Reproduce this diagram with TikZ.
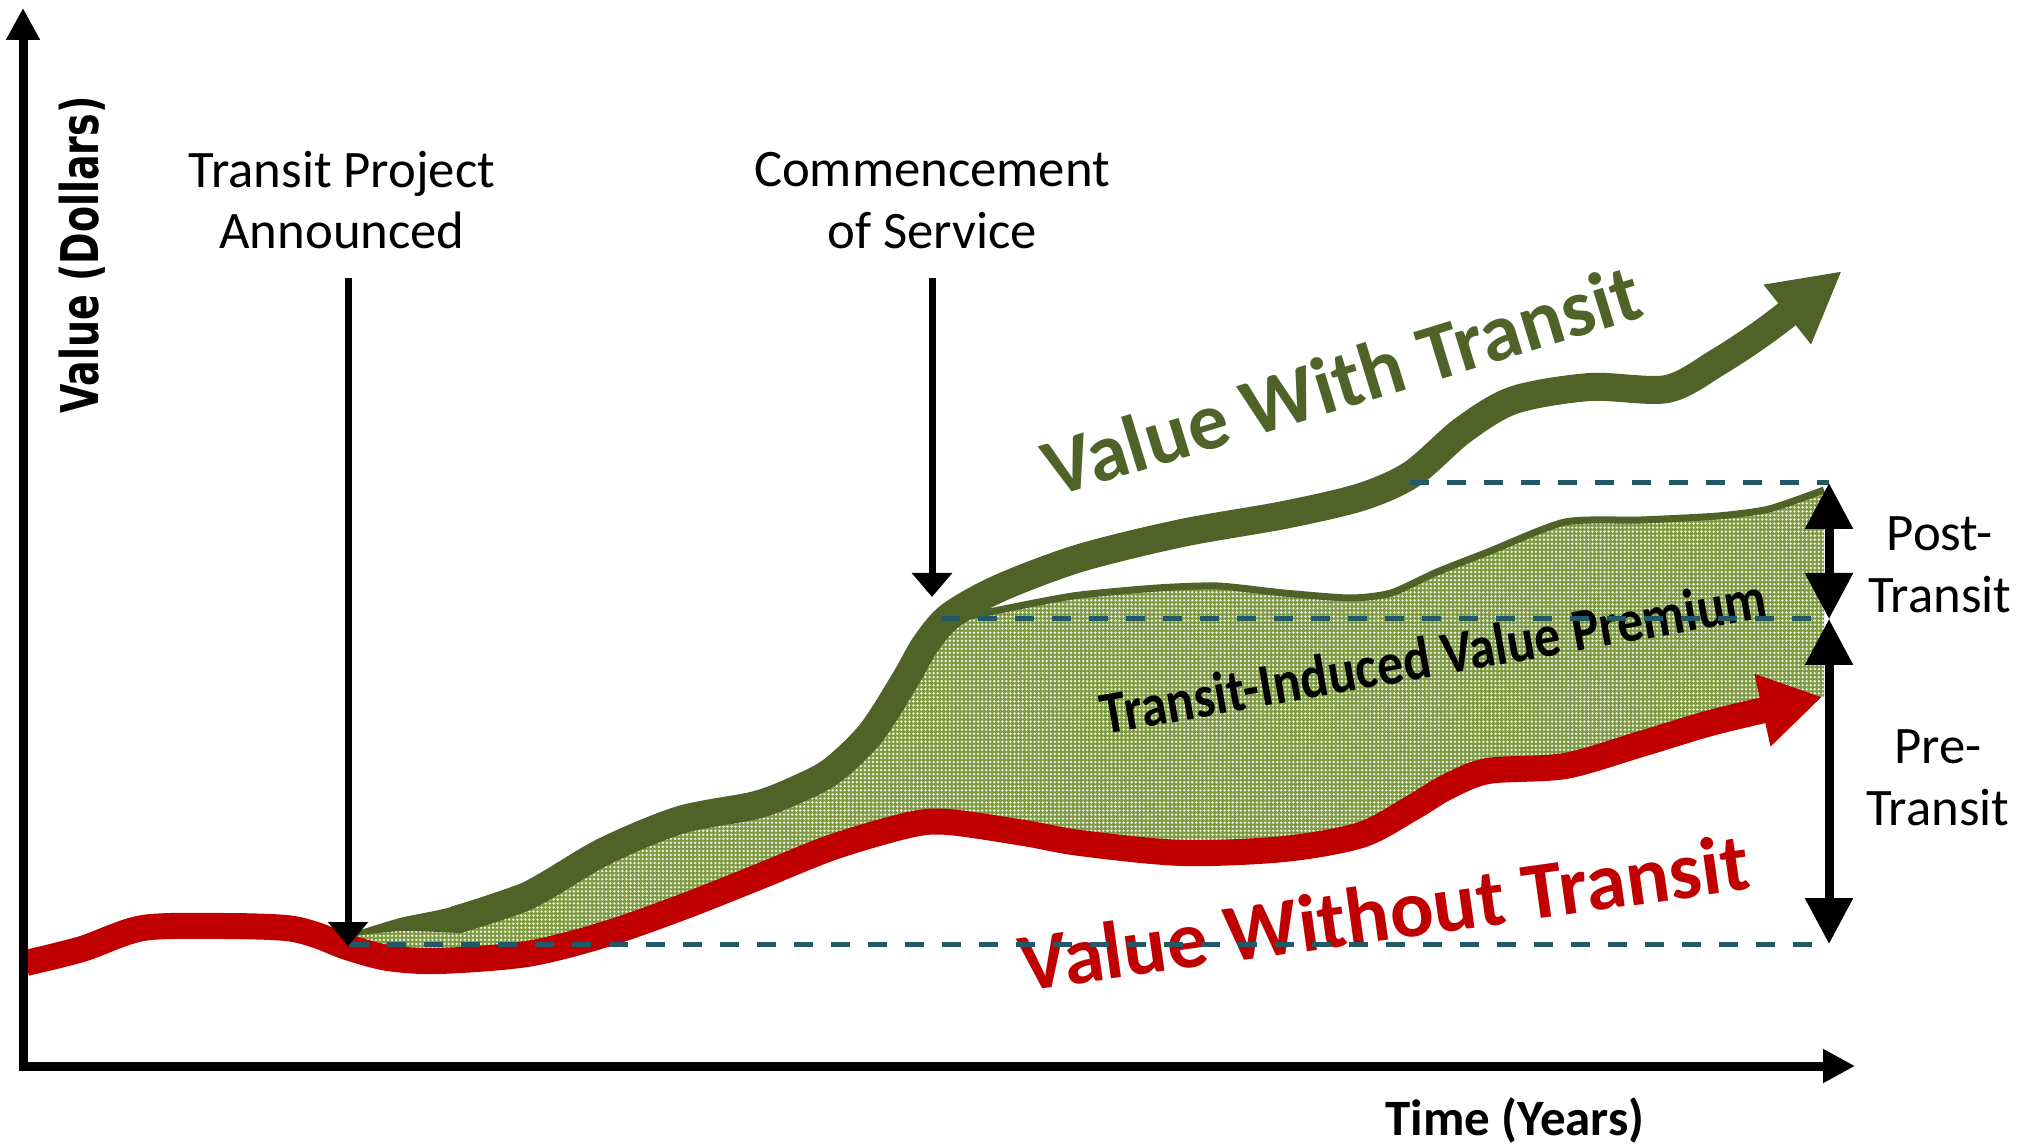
\documentclass[tikz,border=0pt]{standalone}
\usepackage{fontspec}
\setmainfont{Carlito}
\newfontfamily\axisfont[FakeStretch=0.73]{DejaVu Sans}
\usetikzlibrary{arrows.meta,patterns.meta}
\definecolor{withcol}{HTML}{4F6228}
\definecolor{withoutcol}{HTML}{C00000}
\definecolor{premgreen}{HTML}{7E9A43}
\definecolor{premdot}{HTML}{EEF3E2}
\definecolor{guidecol}{HTML}{215968}

\begin{document}
\begin{tikzpicture}[x=0.1mm,y=-0.1mm,
    axis/.style={line width=0.9mm,-{Triangle[length=3.2mm,width=3.2mm]}},
    marker/.style={line width=0.7mm,-{Triangle[length=2.4mm,width=3.9mm]}},
    gap/.style={line width=0.9mm,{Triangle[length=4.6mm,width=4.6mm]}-{Triangle[length=4.6mm,width=4.6mm]}},
    guide/.style={draw=guidecol,line width=0.5mm,dash pattern=on 1.9mm off 1.8mm},
    note/.style={font=\fontsize{15pt}{17.6pt}\selectfont,align=center,inner sep=0pt},
    big/.style={font=\fontsize{23.2pt}{27pt}\selectfont\bfseries,inner sep=0pt,anchor=base},
    premium/.style={preaction={fill=premgreen},pattern={Dots[distance=1.15pt,radius=0.38pt]},pattern color=premdot},
    withline/.style={draw=withcol,line width=2.8mm,-{Triangle[length=7mm,width=7.1mm]}},
    withoutline/.style={draw=withoutcol,line width=2.6mm,-{Triangle[length=6.1mm,width=7mm]}},
    ]
    \useasboundingbox (0,0) rectangle (2022,1146);

    \coordinate (origin) at (23,1066);
    \coordinate (ytip) at (23,8);
    \coordinate (xtip) at (1855,1066);
    \coordinate (annTop) at (348,278);
    \coordinate (annPt) at (348,946);
    \coordinate (comTop) at (932,278);
    \coordinate (comPt) at (932,597);
    \coordinate (topL) at (1410,483);
    \coordinate (topR) at (1829,483);
    \coordinate (midL) at (941,619);
    \coordinate (midR) at (1829,619);
    \coordinate (botL) at (350,944);
    \coordinate (botR) at (1829,944);

    \path[premium]
        plot[smooth] coordinates {(348,936) (400,926) (455,920) (527,896) (603,852) (680,820) (756,805) (800,788) (833,770) (871,733) (905,680) (925,645) (940,624)}
        -- plot[smooth,tension=0.4] coordinates {(940,622) (1034,603) (1080,595) (1157,588) (1218,586) (1284,593) (1350,598) (1391,593) (1437,572) (1488,552) (1565,522) (1641,520) (1718,516) (1769,509) (1824,490)}
        -- (1824,697)
        -- plot[smooth] coordinates {(1822,697) (1718,721) (1641,744) (1565,766) (1488,771) (1447,787) (1412,808) (1361,835) (1284,849) (1182,853) (1080,843) (1024,833) (948,822) (909,825) (833,847) (756,878) (680,908) (603,935) (527,954) (439,961) (388,958) (350,948)}
        -- cycle;
    \draw[withcol,line width=0.7mm] plot[smooth,tension=0.4] coordinates {(940,622) (1034,603) (1080,595) (1157,588) (1218,586) (1284,593) (1350,598) (1391,593) (1437,572) (1488,552) (1565,522) (1641,520) (1718,516) (1769,509) (1824,490)};

    \fill[withcol] plot[smooth] coordinates {(348,934) (400,918) (451,907) (523,883)} -- (531,909) -- plot[smooth] coordinates {(459,933) (400,931) (348,937)} -- cycle;
    \draw[withline] plot[smooth] coordinates {(455,920) (527,896) (603,852) (680,820) (756,805) (800,788) (833,770) (871,733) (905,680) (925,645) (950,616) (1000,588) (1080,558) (1182,533) (1284,515) (1361,497) (1412,474) (1463,430) (1514,400) (1590,387) (1667,389) (1718,362) (1769,328) (1842,271)};
    \draw[withoutline] plot[smooth] coordinates {(26,963) (82,949) (143,928) (224,926) (286,928) (316,935) (347,947) (388,958) (439,961) (527,954) (603,935) (680,908) (756,878) (833,847) (909,825) (948,822) (1024,833) (1080,843) (1182,853) (1284,849) (1361,835) (1412,808) (1447,787) (1488,771) (1565,766) (1641,744) (1718,721) (1822,697)};

    \node[big,rotate=17,text=withcol] (withlbl) at (1350,407) {Value With Transit};
    \node[big,rotate=8,text=withoutcol] (withoutlbl) at (1388,940) {Value Without Transit};
    \node[font=\fontsize{14.8pt}{17pt}\selectfont\bfseries,inner sep=0pt,anchor=base,rotate=10] (premlbl) at (1437,676) {\scalebox{1}[1.15]{Transit-Induced Value Premium}};

    \draw[guide] (topL) -- (topR);
    \draw[guide] (midL) -- (midR);
    \draw[guide] (botL) -- (botR);

    \node[note] (announce) at (342,200) {Transit Project\\Announced};
    \node[note] (commence) at (932,201) {Commencement\\of Service};
    \draw[marker] (annTop) -- (annPt);
    \draw[marker] (comTop) -- (comPt);

    \draw[gap] (midR) -- (topR);
    \draw[gap] (botR) -- (midR);
    \node[note] (post) at (1940,565) {Post-\\Transit};
    \node[note] (pre) at (1938,778) {Pre-\\Transit};

    \draw[axis] (origin) -- (ytip);
    \draw[axis] ([xshift=-0.45mm]origin) -- (xtip);
    \node[font=\fontsize{14.5pt}{17pt}\selectfont\bfseries,inner sep=0pt,anchor=base] (timelbl) at (1515,1135) {Time (Years)};
    \node[font=\fontsize{14.8pt}{17pt}\selectfont\axisfont\bfseries,inner sep=0pt,anchor=base,rotate=90] (valuelbl) at (98,255) {Value (Dollars)};
\end{tikzpicture}
\end{document}
